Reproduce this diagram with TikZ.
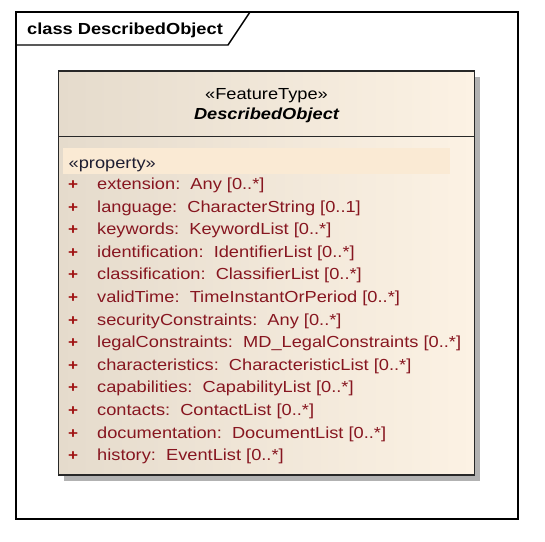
\documentclass[tikz,border=0pt]{standalone}
\usepackage{fontspec}
\setmainfont[FakeStretch=1.14]{Liberation Sans}
\definecolor{attrred}{RGB}{135,22,32}
\definecolor{plusred}{RGB}{160,20,20}
\definecolor{propcol}{RGB}{30,30,50}
\definecolor{boxleft}{RGB}{229,219,204}
\definecolor{boxright}{RGB}{252,242,228}
\definecolor{bandcol}{RGB}{250,234,212}
\definecolor{shadowcol}{RGB}{178,178,178}
\definecolor{bordercol}{RGB}{40,40,40}
\tikzset{
  txt/.style={inner sep=0pt, font=\fontsize{16}{19}\selectfont},
  attr/.style={txt, anchor=base west, text=attrred},
  plus/.style={txt, anchor=base west, text=plusred, font=\fontsize{15}{19}\selectfont\bfseries},
  framecol/.style={draw=black, line width=1.4pt},
}
\begin{document}
\begin{tikzpicture}[x=1pt,y=-1pt]
\useasboundingbox (0,0) rectangle (545,541);
% diagram frame
\draw[framecol] (16,12) rectangle (518,519);
\draw[framecol] (16,45) -- (228,45) -- (250,12);
\node[txt, anchor=base west, font=\fontsize{16}{19}\selectfont\bfseries] (frametitle) at (27,34) {class DescribedObject};
% class box
\fill[shadowcol] (64,77) rectangle (480,481);
\shade[left color=boxleft, right color=boxright] (58.5,71) rectangle (474.5,475);
\fill[bandcol] (63,148) rectangle (450,174);
\draw[bordercol, line width=1.2pt] (58.5,71) rectangle (474.5,475);
\draw[bordercol, line width=1.2pt] (58.5,136.5) -- (474.5,136.5);
\node[txt, anchor=base] (stereo) at (266.5,99.5) {«FeatureType»};
\node[txt, anchor=base, font=\fontsize{16}{19}\selectfont\bfseries\itshape] (cname) at (266.5,119) {DescribedObject};
\node[txt, anchor=base west, text=propcol] (prop) at (68.5,168) {«property»};
\foreach \i/\t in {0/{extension:\ \ Any [0..*]},
                   1/{language:\ \ CharacterString [0..1]},
                   2/{keywords:\ \ KeywordList [0..*]},
                   3/{identification:\ \ IdentifierList [0..*]},
                   4/{classification:\ \ ClassifierList [0..*]},
                   5/{validTime:\ \ TimeInstantOrPeriod [0..*]},
                   6/{securityConstraints:\ \ Any [0..*]},
                   7/{legalConstraints:\ \ MD\_LegalConstraints [0..*]},
                   8/{characteristics:\ \ CharacteristicList [0..*]},
                   9/{capabilities:\ \ CapabilityList [0..*]},
                   10/{contacts:\ \ ContactList [0..*]},
                   11/{documentation:\ \ DocumentList [0..*]},
                   12/{history:\ \ EventList [0..*]}} {
  \node[plus] (plus\i) at (68,189.5+22.6*\i) {+};
  \node[attr] (attr\i) at (97,189.5+22.6*\i) {\t};
}
\end{tikzpicture}
\end{document}
